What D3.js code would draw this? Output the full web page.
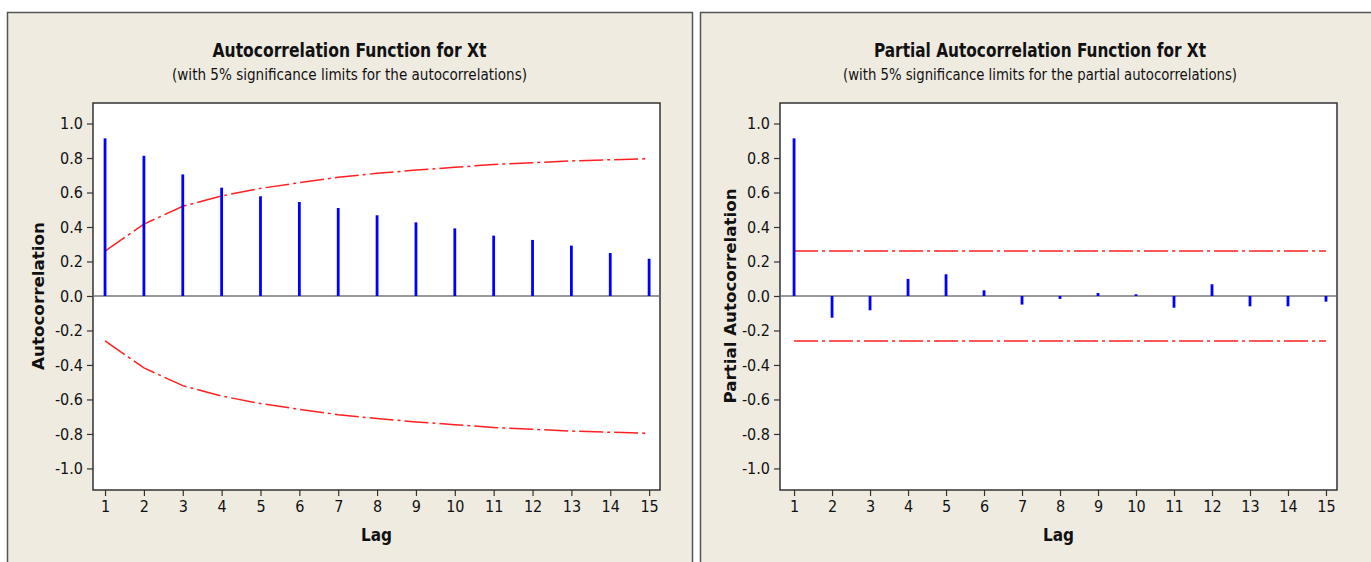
<!DOCTYPE html>
<html>
<head>
<meta charset="utf-8">
<script src="https://cdn.jsdelivr.net/npm/d3@7"></script>
<style>
  body { margin: 0; background: #fff; }
  svg text { font-family: "Liberation Sans Narrow", "DejaVu Sans Condensed", sans-serif; fill: #111; }
  .axis path { display: none; }
  .axis line { stroke: #333; stroke-width: 1.2; }
  .axis text { font-size: 16px; }
</style>
</head>
<body>
<div id="chart"></div>
<script>
(function (d3) {

    var lags = [1, 2, 3, 4, 5, 6, 7, 8, 9, 10, 11, 12, 13, 14, 15];

    var acfValues = [0.914, 0.813, 0.705, 0.628, 0.578, 0.545, 0.510, 0.468,
                     0.427, 0.392, 0.350, 0.325, 0.292, 0.249, 0.216];

    var acfLimits = [0.260, 0.417, 0.520, 0.580, 0.624, 0.657, 0.688, 0.711,
                     0.730, 0.746, 0.763, 0.773, 0.783, 0.790, 0.796];

    var pacfValues = [0.914, -0.126, -0.083, 0.099, 0.126, 0.033, -0.050, -0.017,
                      0.017, 0.010, -0.068, 0.068, -0.060, -0.060, -0.033];

    var pacfLimit = 0.261;

    var yTicks = [1.0, 0.8, 0.6, 0.4, 0.2, 0.0, -0.2, -0.4, -0.6, -0.8, -1.0];

    var width = 1371,
        height = 562;

    var svg = d3.select('#chart')
        .append('svg')
        .attr('width', width)
        .attr('height', height);

    function drawPanel(cfg) {
        var g = svg.append('g');

        // beige frame of the panel
        g.append('rect')
            .attr('x', cfg.frame[0] + 0.5)
            .attr('y', 12.5)
            .attr('width', cfg.frame[1] - cfg.frame[0])
            .attr('height', 600)
            .attr('fill', '#efebe1')
            .attr('stroke', '#555')
            .attr('stroke-width', 1.5);

        var frameMid = (cfg.frame[0] + cfg.frame[1]) / 2;

        g.append('text')
            .attr('x', frameMid)
            .attr('y', 57)
            .attr('text-anchor', 'middle')
            .attr('font-size', '20px')
            .attr('font-weight', 'bold')
            .attr('textLength', cfg.titleLen)
            .attr('lengthAdjust', 'spacingAndGlyphs')
            .text(cfg.title);

        g.append('text')
            .attr('x', frameMid)
            .attr('y', 80)
            .attr('text-anchor', 'middle')
            .attr('font-size', '16px')
            .attr('textLength', cfg.subLen)
            .attr('lengthAdjust', 'spacingAndGlyphs')
            .text(cfg.subtitle);

        var left = cfg.plot[0], right = cfg.plot[1],
            top = 103, bottom = 490;

        var xScale = d3.scaleLinear()
            .domain(cfg.xDomain)
            .range([left, right]);

        var yScale = d3.scaleLinear()
            .domain([-1.125, 1.119])
            .range([bottom, top]);

        g.append('rect')
            .attr('x', left)
            .attr('y', top)
            .attr('width', right - left)
            .attr('height', bottom - top)
            .attr('fill', '#fff')
            .attr('stroke', '#333')
            .attr('stroke-width', 1.5);

        var yAxis = d3.axisLeft(yScale)
            .tickValues(yTicks)
            .tickSizeInner(6)
            .tickSizeOuter(0)
            .tickPadding(4)
            .tickFormat(function (d) { return d.toFixed(1); });

        var xAxis = d3.axisBottom(xScale)
            .tickValues(lags)
            .tickSizeInner(6)
            .tickSizeOuter(0)
            .tickPadding(5);

        g.append('g')
            .attr('class', 'axis')
            .attr('transform', 'translate(' + left + ',0)')
            .call(yAxis);

        g.append('g')
            .attr('class', 'axis')
            .attr('transform', 'translate(0,' + bottom + ')')
            .call(xAxis);

        // zero reference line
        g.append('line')
            .attr('x1', left)
            .attr('x2', right)
            .attr('y1', yScale(0))
            .attr('y2', yScale(0))
            .attr('stroke', '#777')
            .attr('stroke-width', 1.5);

        // significance limits
        var limitLine = d3.line()
            .x(function (d) { return xScale(d[0]); })
            .y(function (d) { return yScale(d[1]); });

        [1, -1].forEach(function (sign) {
            var pts = lags.map(function (lag, i) {
                return [lag, sign * cfg.limits[i]];
            });
            g.append('path')
                .attr('d', limitLine(pts))
                .attr('fill', 'none')
                .attr('stroke', '#ff2020')
                .attr('stroke-width', 1.5)
                .attr('stroke-dasharray', '24,4,3,4');
        });

        // bars
        g.append('g')
            .selectAll('line')
            .data(cfg.values)
            .enter()
            .append('line')
            .attr('x1', function (d, i) { return xScale(lags[i]); })
            .attr('x2', function (d, i) { return xScale(lags[i]); })
            .attr('y1', yScale(0))
            .attr('y2', function (d) { return yScale(d); })
            .attr('stroke', '#0000ff')
            .attr('stroke-width', 2.8);

        g.append('text')
            .attr('x', (left + right) / 2)
            .attr('y', 541)
            .attr('text-anchor', 'middle')
            .attr('font-size', '17px')
            .attr('font-weight', 'bold')
            .text('Lag');

        g.append('text')
            .attr('transform', 'translate(' + cfg.yTitleX + ',' + yScale(0) + ') rotate(-90)')
            .attr('text-anchor', 'middle')
            .attr('font-size', '16px')
            .attr('font-weight', 'bold')
            .attr('textLength', cfg.yTitleLen)
            .attr('lengthAdjust', 'spacingAndGlyphs')
            .text(cfg.yTitle);
    }

    drawPanel({
        frame: [7, 692],
        plot: [93, 660],
        xDomain: [0.69, 15.28],
        title: 'Autocorrelation Function for Xt',
        titleLen: 274,
        subtitle: '(with 5% significance limits for the autocorrelations)',
        subLen: 355,
        yTitle: 'Autocorrelation',
        yTitleLen: 148,
        yTitleX: 44,
        values: acfValues,
        limits: acfLimits
    });

    drawPanel({
        frame: [700, 1380],
        plot: [780, 1337],
        xDomain: [0.63, 15.29],
        title: 'Partial Autocorrelation Function for Xt',
        titleLen: 332,
        subtitle: '(with 5% significance limits for the partial autocorrelations)',
        subLen: 394,
        yTitle: 'Partial Autocorrelation',
        yTitleLen: 215,
        yTitleX: 736,
        values: pacfValues,
        limits: lags.map(function () { return pacfLimit; })
    });

})(d3);
</script>
</body>
</html>
